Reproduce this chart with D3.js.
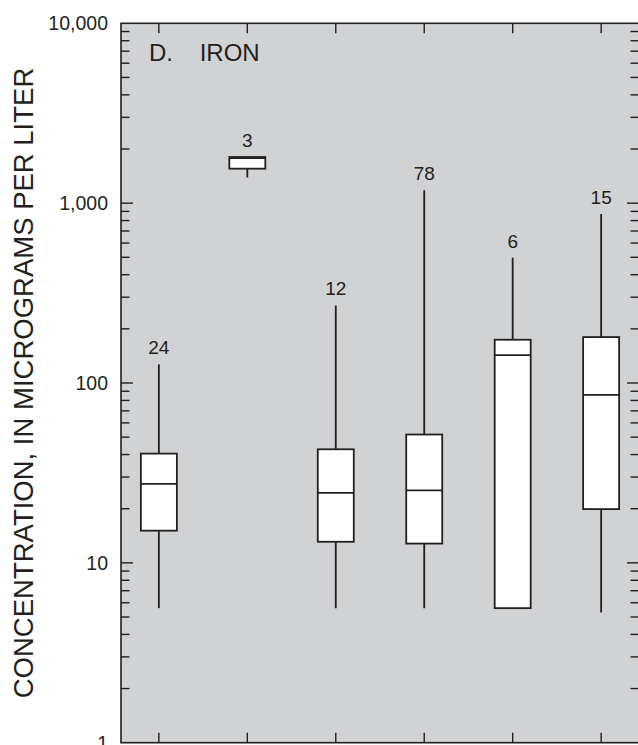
<!DOCTYPE html>
<html>
<head>
<meta charset="utf-8">
<script src="https://cdn.jsdelivr.net/npm/d3@7"></script>
<style>
  body { margin: 0; background: white; }
  svg { display: block; font-family: "Liberation Sans", Arial, sans-serif; }
</style>
</head>
<body>
<script>
    // Iron concentrations, box plot values (micrograms per liter)
    var counts  = [24, 3, 12, 78, 6, 15];
    var lowVal  = [5.6, 1390, 5.6, 5.6, 5.6, 5.3];
    var q1Val   = [15.1, 1555, 13.1, 12.8, 5.6, 19.9];
    var medVal  = [27.5, 1780, 24.5, 25.3, 143, 86];
    var q3Val   = [40.5, 1805, 42.8, 51.7, 174, 180];
    var highVal = [127, 1805, 270, 1180, 497, 870];
    var yTicks  = [1, 10, 100, 1000, 10000];

    var pLeft = 121, pRight = 639, pTop = 23.3, pBottom = 742.7;
    var ink = "#231f20";

    var svg = d3.select("body")
                .append("svg")
                .attr("width", 638)
                .attr("height", 745);

    var x = d3.scalePoint()
              .domain(d3.range(counts.length))
              .range([pLeft, pRight])
              .padding(0.428);

    var y = d3.scaleLog()
              .domain([1, 10000])
              .range([pBottom, pTop]);

    // plot background
    svg.append("rect")
       .attr("x", pLeft)
       .attr("y", pTop)
       .attr("width", pRight - pLeft)
       .attr("height", pBottom - pTop)
       .attr("fill", "#d1d2d4")
       .attr("stroke", ink)
       .attr("stroke-width", 1.6);

    // log ticks on left and right edges
    for (var d = 0; d < 4; d++) {
      for (var k = 1; k < 10; k++) {
        var v = k * Math.pow(10, d);
        var len = (k == 1) ? 12 : 8.5;
        if (v == 1) continue;
        svg.append("line")
           .attr("x1", pLeft).attr("x2", pLeft + len)
           .attr("y1", y(v)).attr("y2", y(v))
           .attr("stroke", ink).attr("stroke-width", 1.4);
        svg.append("line")
           .attr("x1", pRight).attr("x2", pRight - len)
           .attr("y1", y(v)).attr("y2", y(v))
           .attr("stroke", ink).attr("stroke-width", 1.4);
      }
    }

    // tick labels
    yTicks.forEach(function(t) {
      svg.append("text")
         .attr("x", 108)
         .attr("y", y(t))
         .attr("dy", "0.36em")
         .attr("text-anchor", "end")
         .style("font-size", "19.5px")
         .style("fill", ink)
         .text(d3.format(",")(t));
    });

    // category ticks top and bottom
    for (var i = 0; i < counts.length; i++) {
      svg.append("line")
         .attr("x1", x(i)).attr("x2", x(i))
         .attr("y1", pTop).attr("y2", pTop + 10)
         .attr("stroke", ink).attr("stroke-width", 1.4);
      svg.append("line")
         .attr("x1", x(i)).attr("x2", x(i))
         .attr("y1", pBottom).attr("y2", pBottom - 10)
         .attr("stroke", ink).attr("stroke-width", 1.4);
    }

    // boxes
    var bw = 36;
    for (var i = 0; i < counts.length; i++) {
      var cx = x(i);
      svg.append("line")
         .attr("x1", cx).attr("x2", cx)
         .attr("y1", y(highVal[i])).attr("y2", y(lowVal[i]))
         .attr("stroke", ink).attr("stroke-width", 1.8);
      svg.append("rect")
         .attr("x", cx - bw / 2)
         .attr("y", y(q3Val[i]))
         .attr("width", bw)
         .attr("height", y(q1Val[i]) - y(q3Val[i]))
         .attr("fill", "white")
         .attr("stroke", ink)
         .attr("stroke-width", 1.8);
      svg.append("line")
         .attr("x1", cx - bw / 2).attr("x2", cx + bw / 2)
         .attr("y1", y(medVal[i])).attr("y2", y(medVal[i]))
         .attr("stroke", ink).attr("stroke-width", 1.8);
      svg.append("text")
         .attr("x", cx)
         .attr("y", y(highVal[i]) - 10)
         .attr("text-anchor", "middle")
         .style("font-size", "19px")
         .style("fill", ink)
         .text(counts[i]);
    }

    // panel label
    svg.append("text")
       .attr("x", 149)
       .attr("y", 61)
       .style("font-size", "24px")
       .style("fill", ink)
       .style("white-space", "pre")
       .text("D.    IRON");

    // y axis title
    svg.append("text")
       .attr("transform", "translate(33," + ((pBottom + pTop) / 2) + ") rotate(-90)")
       .attr("text-anchor", "middle")
       .style("font-size", "27.5px")
       .style("fill", ink)
       .text("CONCENTRATION, IN MICROGRAMS PER LITER");
</script>
</body>
</html>
